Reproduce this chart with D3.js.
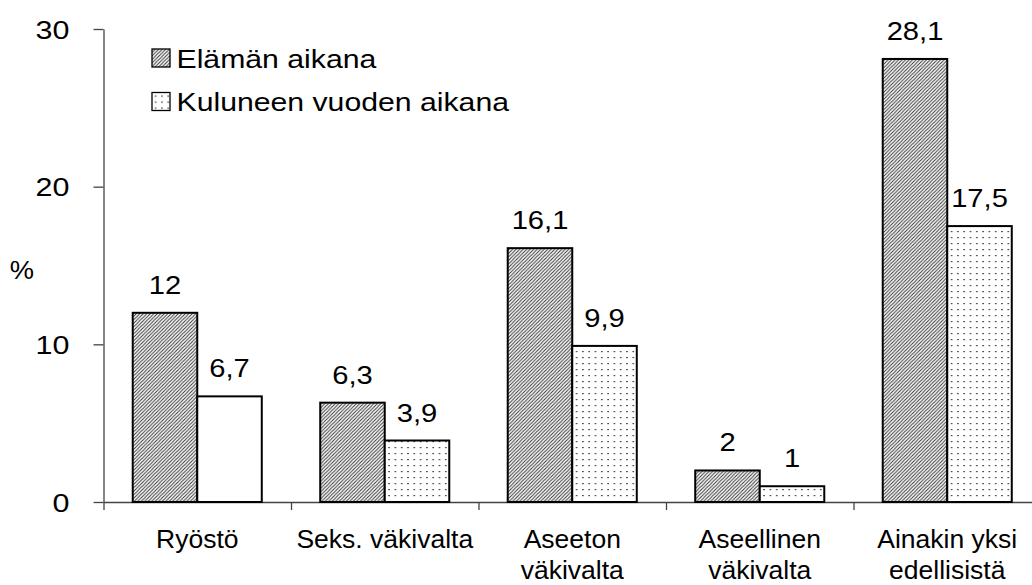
<!DOCTYPE html>
<html>
<head>
<meta charset="utf-8">
<script src="https://cdn.jsdelivr.net/npm/d3@7"></script>
<style>
  body { margin: 0; background: #fff; }
  svg text { font-family: "Liberation Sans", Arial, sans-serif; fill: #000; }
</style>
</head>
<body>
<svg id="chart" width="1032" height="585"></svg>
<script>
const categories = [["Ryöstö"], ["Seks. väkivalta"], ["Aseeton", "väkivalta"], ["Aseellinen", "väkivalta"], ["Ainakin yksi", "edellisistä"]];
const seriesNames = ["Elämän aikana", "Kuluneen vuoden aikana"];
const lifetime = [12, 6.3, 16.1, 2, 28.1];
const lastYear = [6.7, 3.9, 9.9, 1, 17.5];
const yTicks = [0, 10, 20, 30];

const svg = d3.select("#chart");
const mLeft = 103.5, mRight = 1041, mTop = 29, mBottom = 502;

// the original text is a bit wider than its height suggests
function stretch(sel, sx) {
  sel.each(function() {
    const t = d3.select(this);
    const x = +t.attr("x") || 0, y = +t.attr("y") || 0;
    t.attr("x", null).attr("y", null)
     .attr("transform", `translate(${x},${y}) scale(${sx},1)`);
  });
}

// fills
const defs = svg.append("defs");
const hatch = defs.append("pattern").attr("id", "hatch")
    .attr("patternUnits", "userSpaceOnUse").attr("width", 3.5).attr("height", 3.5);
hatch.append("rect").attr("width", 3.5).attr("height", 3.5).attr("fill", "#fff");
hatch.append("path").attr("d", "M-1,4.5 L4.5,-1 M-1,1 L1,-1 M2.5,4.5 L4.5,2.5")
    .attr("stroke", "#333").attr("stroke-width", 1);
const dots = defs.append("pattern").attr("id", "dots")
    .attr("patternUnits", "userSpaceOnUse").attr("width", 6.3).attr("height", 6);
dots.append("rect").attr("width", 6.3).attr("height", 6).attr("fill", "#fff");
dots.append("rect").attr("x", 3).attr("y", 3).attr("width", 1.2).attr("height", 1.2).attr("fill", "#000");

const fills = ["url(#hatch)", "url(#dots)"];

const x0 = d3.scaleBand().domain(d3.range(categories.length)).range([mLeft, mRight]);
const x1 = d3.scaleBand().domain([0, 1]).range([0, x0.bandwidth()]).paddingOuter(0.453);
const y = d3.scaleLinear().domain([0, 30]).range([mBottom, mTop]);
const xEdge = d3.scaleLinear().domain([0, categories.length]).range([mLeft, mRight]);

// axes
const yAxis = svg.append("g").attr("transform", `translate(${mLeft},0)`)
    .call(d3.axisLeft(y).tickValues(yTicks).tickSize(10).tickSizeOuter(0).tickPadding(24));
const xAxis = svg.append("g").attr("transform", `translate(0,${mBottom})`)
    .call(d3.axisBottom(xEdge).tickValues(d3.range(categories.length + 1)).tickFormat("").tickSize(8).tickSizeOuter(0));
[yAxis, xAxis].forEach(g => {
  g.select(".domain").attr("stroke", "#444").attr("stroke-width", 1.3);
  g.selectAll(".tick line").attr("stroke", "#444").attr("stroke-width", 1.3);
});
yAxis.selectAll(".tick text").attr("font-size", 26.5).attr("fill", "#000")
    .attr("font-family", "Liberation Sans, Arial, sans-serif")
    .attr("dy", "0.35em").call(stretch, 1.15);

svg.append("text").attr("x", 22).attr("y", 279).attr("text-anchor", "middle")
    .attr("font-size", 26).text("%").call(stretch, 1.05);

// bars
const rows = categories.map((c, i) => [lifetime[i], lastYear[i]]);
const groups = svg.selectAll(".grp").data(rows).join("g")
    .attr("class", "grp")
    .attr("transform", (d, i) => `translate(${x0(i)},0)`);
groups.selectAll("rect").data((d, gi) => d.map((v, s) => ({v, s, gi}))).join("rect")
    .attr("x", d => x1(d.s))
    .attr("y", d => y(d.v))
    .attr("width", x1.bandwidth())
    .attr("height", d => y(0) - y(d.v))
    .attr("fill", d => (d.gi === 0 && d.s === 1) ? "#fff" : fills[d.s])
    .attr("stroke", "#000").attr("stroke-width", 2);
groups.selectAll("text.val").data(d => d.map((v, s) => ({v, s}))).join("text")
    .attr("class", "val")
    .attr("x", d => x1(d.s) + x1.bandwidth() / 2)
    .attr("y", d => y(d.v) - 19)
    .attr("text-anchor", "middle").attr("font-size", 26.5)
    .text(d => String(d.v).replace(".", ","))
    .call(stretch, 1.1);

// category labels
const labels = svg.selectAll(".cat").data(categories).join("text")
    .attr("class", "cat").attr("font-size", 26.5).attr("text-anchor", "middle")
    .attr("transform", (d, i) => `translate(${x0(i) + x0.bandwidth() / 2},548)`);
labels.selectAll("tspan").data(d => d).join("tspan")
    .attr("x", 0).attr("dy", (d, i) => i === 0 ? 0 : 31).text(d => d);

// legend
const legend = svg.append("g").attr("transform", "translate(152,49)");
seriesNames.forEach((name, i) => {
  const row = legend.append("g").attr("transform", `translate(0,${i * 43.5})`);
  row.append("rect").attr("width", 18).attr("height", 18)
      .attr("fill", fills[i]).attr("stroke", "#000").attr("stroke-width", 1.3);
  row.append("text").attr("x", 24.5).attr("y", 18.5).attr("font-size", 26.5).text(name)
      .call(stretch, 1.14);
});
</script>
</body>
</html>
